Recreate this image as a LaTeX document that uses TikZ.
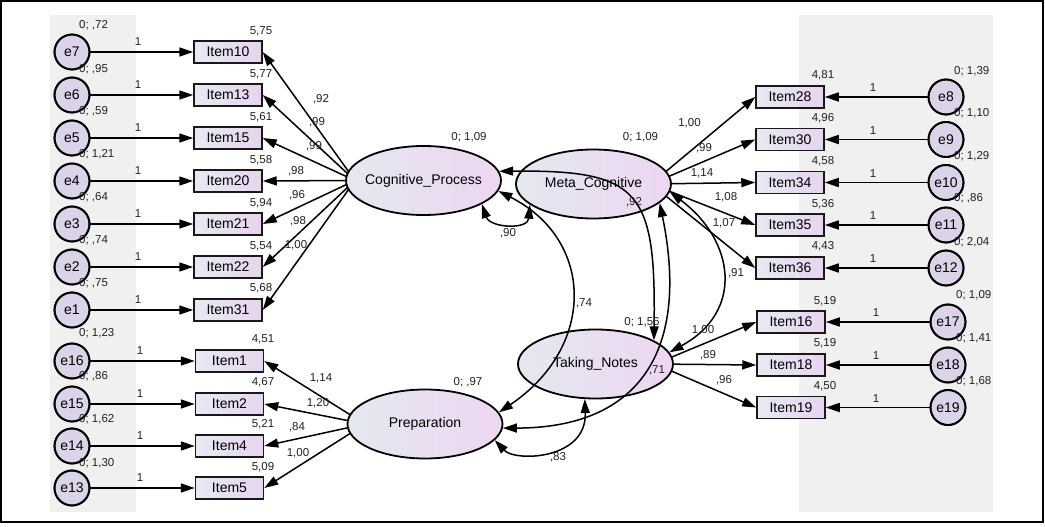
\documentclass[tikz,border=0pt]{standalone}
\usepackage{fontspec}
\setmainfont{Liberation Sans}
\usetikzlibrary{shapes.geometric,arrows.meta}
\definecolor{panel}{HTML}{F0F0F0}
\definecolor{errfill}{HTML}{DDD3E8}
\definecolor{boxl}{HTML}{E6EAF2}
\definecolor{boxr}{HTML}{E8D3EF}
\definecolor{latl}{HTML}{E4E8F0}
\definecolor{latr}{HTML}{EED6F2}
\definecolor{lblc}{HTML}{222222}
\pgfdeclarelayer{bg}
\pgfsetlayers{bg,main}
\tikzset{
  errc/.style={circle, draw=black, line width=1.8pt, fill=errfill, minimum size=35pt, inner sep=0pt, font=\fontsize{14}{16}\selectfont},
  ring/.style={draw=black, line width=1.8pt},
  obsv/.style={rectangle, draw=black!90, line width=1.5pt, left color=boxl, right color=boxr, minimum width=68pt, minimum height=22pt, inner sep=0pt, font=\fontsize{14}{16}\selectfont},
  latv/.style={ellipse, draw=black, line width=1.8pt, left color=latl, right color=latr, minimum width=155pt, minimum height=69pt, inner sep=0pt, font=\fontsize{14}{16}\selectfont},
  lab/.style={inner sep=0pt, text=lblc, font=\fontsize{11.5}{13}\selectfont},
  regr/.style={-{Triangle[length=14pt,width=9pt]}, line width=1.5pt},
  covar/.style={{Triangle[length=14pt,width=9pt]}-{Triangle[length=14pt,width=9pt]}, line width=1.5pt}
}
\begin{document}
\begin{tikzpicture}[x=1pt,y=-1pt]
\useasboundingbox (0,0) rectangle (1045,527);

% left errors and items
\node[errc] (e7) at (72,52) {e7};
\node[errc] (e6) at (72,95) {e6};
\node[errc] (e5) at (72,138) {e5};
\node[errc] (e4) at (72,181) {e4};
\node[errc] (e3) at (72,224) {e3};
\node[errc] (e2) at (72,267) {e2};
\node[errc] (e1) at (72,310) {e1};
\node[errc] (e16) at (72,361) {e16};
\node[errc] (e15) at (72,404) {e15};
\node[errc] (e14) at (72,446) {e14};
\node[errc] (e13) at (72,488) {e13};

\node[obsv] (i10) at (228,52) {Item10};
\node[obsv] (i13) at (228,95) {Item13};
\node[obsv] (i15) at (228,138) {Item15};
\node[obsv] (i20) at (228,181) {Item20};
\node[obsv] (i21) at (228,224) {Item21};
\node[obsv] (i22) at (228,267) {Item22};
\node[obsv] (i31) at (228,310) {Item31};
\node[obsv] (i1) at (229.5,361) {Item1};
\node[obsv] (i2) at (229.5,404) {Item2};
\node[obsv] (i4) at (229.5,446) {Item4};
\node[obsv] (i5) at (229.5,488) {Item5};

% right items and errors
\node[obsv] (i28) at (790,97) {Item28};
\node[obsv] (i30) at (790,139.5) {Item30};
\node[obsv] (i34) at (790,182.5) {Item34};
\node[obsv] (i35) at (790,225) {Item35};
\node[obsv] (i36) at (790,268) {Item36};
\node[obsv] (i16) at (791,322) {Item16};
\node[obsv] (i18) at (791,365) {Item18};
\node[obsv] (i19) at (791,407.5) {Item19};

\node[errc] (e8) at (946,97) {e8};
\node[errc] (e9) at (946,139.5) {e9};
\node[errc] (e10) at (946,182.5) {e10};
\node[errc] (e11) at (946,225) {e11};
\node[errc] (e12) at (946,268) {e12};
\node[errc] (e17) at (948,322) {e17};
\node[errc] (e18) at (948,365) {e18};
\node[errc] (e19) at (948,407.5) {e19};

% circle outlines, drawn again on top
\foreach \n in {e1,e2,e3,e4,e5,e6,e7,e8,e9,e10,e11,e12,e13,e14,e15,e16,e17,e18,e19}
  \draw[ring] (\n.center) circle[radius=17.5pt];

% latent variables
\node[latv] (cp) at (423.5,180.5) {\makebox[0pt]{Cognitive\_Process}};
\node[latv] (mc) at (593.5,184) {\makebox[0pt]{Meta\_Cognitive}};
\node[latv] (tn) at (595.5,364) {\makebox[0pt]{Taking\_Notes}};
\node[latv] (pr) at (425,424) {\makebox[0pt]{Preparation}};

% inner points the loadings radiate from
\coordinate (cpf) at (355,180.5);
\coordinate (mcf) at (651,184);
\coordinate (tnf) at (655,364);
\coordinate (prf) at (365,424);

\begin{pgfonlayer}{bg}
\fill[white] (0,0) rectangle (1045,527);
\fill[panel] (50,15) rectangle (136,512);
\fill[panel] (799,15) rectangle (993,512);
\draw[line width=1.5pt] (1,1) rectangle (1043,522);
% loadings
\foreach \i in {i10,i13,i15,i20,i21,i22,i31} \draw[regr] (cpf) -- (\i.east);
\foreach \i in {i1,i2,i4,i5} \draw[regr] (prf) -- (\i.east);
\foreach \i in {i28,i30,i34,i35,i36} \draw[regr] (mcf) -- (\i.west);
\foreach \i in {i16,i18,i19} \draw[regr] (tnf) -- (\i.west);
\end{pgfonlayer}

% error paths
\foreach \e/\i in {e7/i10,e6/i13,e5/i15,e4/i20,e3/i21,e2/i22,e1/i31,e16/i1,e15/i2,e14/i4,e13/i5,e8/i28,e9/i30,e10/i34,e11/i35,e12/i36,e17/i16,e18/i18,e19/i19}
  \draw[regr] (\e) -- (\i);

% covariances
\draw[covar] (cp.-22) .. controls (490,228) and (528,230) .. (mc.-162);
\draw[covar] (cp.7) .. controls (640,170) and (656,190) .. (tn.22);
\draw[covar] (cp.-8) .. controls (595,240) and (596,347) .. (pr.9);
\draw[covar] (mc.-6) .. controls (734.8,240.5) and (744.5,311.5) .. (tn.9);
\draw[covar] (mc.-16) .. controls (690,350) and (640,428) .. (pr.-3);
\draw[covar] (pr.-13) .. controls (515,462) and (587,460) .. (tn.-107);

% "1" labels
\foreach \y in {42,85,128,171,214,257,300} \node[lab] at (138,\y) {1};
\foreach \y in {351,394,436,478} \node[lab] at (140,\y) {1};
\foreach \y in {88,130.5,173.5,216,259} \node[lab] at (873,\y) {1};
\foreach \y in {313,356,398.5} \node[lab] at (876,\y) {1};

% error variances
\node[lab, anchor=west] at (79,25) {0; ,72};
\node[lab, anchor=west] at (79,69) {0; ,95};
\node[lab, anchor=west] at (79,111.5) {0; ,59};
\node[lab, anchor=west] at (79,154) {0; 1,21};
\node[lab, anchor=west] at (79,197) {0; ,64};
\node[lab, anchor=west] at (79,240) {0; ,74};
\node[lab, anchor=west] at (79,283) {0; ,75};
\node[lab, anchor=west] at (79,333) {0; 1,23};
\node[lab, anchor=west] at (79,376) {0; ,86};
\node[lab, anchor=west] at (79,419) {0; 1,62};
\node[lab, anchor=west] at (79,463) {0; 1,30};
\node[lab, anchor=west] at (954,71) {0; 1,39};
\node[lab, anchor=west] at (954,113) {0; 1,10};
\node[lab, anchor=west] at (954,156) {0; 1,29};
\node[lab, anchor=west] at (954,198) {0; ,86};
\node[lab, anchor=west] at (954,242) {0; 2,04};
\node[lab, anchor=west] at (956,295) {0; 1,09};
\node[lab, anchor=west] at (956,338) {0; 1,41};
\node[lab, anchor=west] at (956,381) {0; 1,68};

% intercepts
\node[lab] at (261,31) {5,75};
\node[lab] at (261,74) {5,77};
\node[lab] at (261,117) {5,61};
\node[lab] at (261,160) {5,58};
\node[lab] at (261,203) {5,94};
\node[lab] at (261,246) {5,54};
\node[lab] at (261,288) {5,68};
\node[lab] at (263,339) {4,51};
\node[lab] at (263,382) {4,67};
\node[lab] at (263,424) {5,21};
\node[lab] at (263,467) {5,09};
\node[lab] at (823,75) {4,81};
\node[lab] at (823,118) {4,96};
\node[lab] at (823,161.5) {4,58};
\node[lab] at (823,204) {5,36};
\node[lab] at (823,246.5) {4,43};
\node[lab] at (825,301) {5,19};
\node[lab] at (825,343) {5,19};
\node[lab] at (825,386) {4,50};

% latent variances
\node[lab] at (469,137) {0; 1,09};
\node[lab] at (640.5,137) {0; 1,09};
\node[lab] at (642,322) {0; 1,56};
\node[lab] at (468,382) {0; ,97};

% loading labels
\node[lab] at (321,99) {,92};
\node[lab] at (317,122) {,99};
\node[lab] at (314,146) {,99};
\node[lab] at (296,171) {,98};
\node[lab] at (297,195) {,96};
\node[lab] at (298,221) {,98};
\node[lab] at (296,245) {1,00};
\node[lab] at (321,378) {1,14};
\node[lab] at (318,403) {1,20};
\node[lab] at (297,427) {,84};
\node[lab] at (298,453) {1,00};
\node[lab] at (689.5,123) {1,00};
\node[lab] at (704,148) {,99};
\node[lab] at (702,173) {1,14};
\node[lab] at (726,197) {1,08};
\node[lab] at (724,223) {1,07};
\node[lab] at (703,330) {1,00};
\node[lab] at (708,355) {,89};
\node[lab] at (724,380) {,96};

% covariance labels
\node[lab] at (508,233) {,90};
\node[lab] at (634,202) {,92};
\node[lab] at (584,303) {,74};
\node[lab] at (736,273) {,91};
\node[lab] at (657,370) {,71};
\node[lab] at (558,457) {,83};
\end{tikzpicture}
\end{document}
